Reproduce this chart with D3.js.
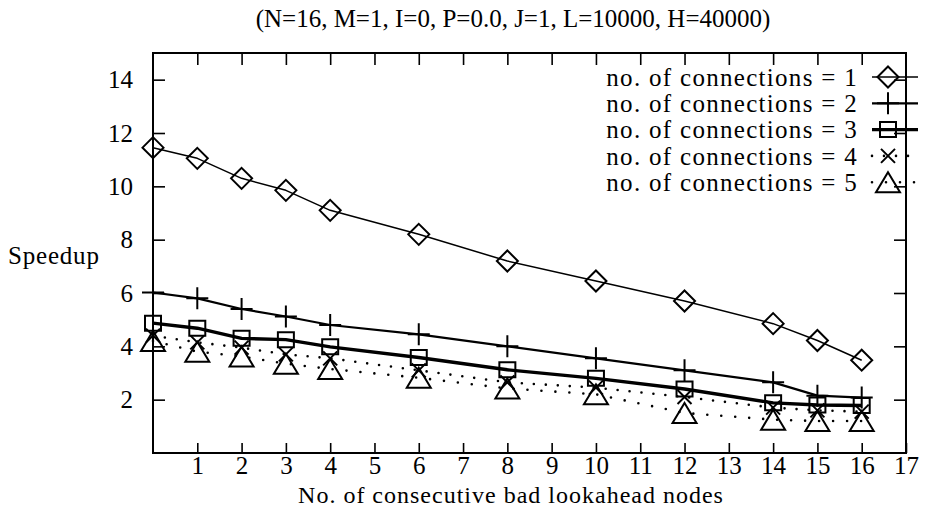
<!DOCTYPE html>
<html>
<head>
<meta charset="utf-8">
<script src="https://cdn.jsdelivr.net/npm/d3@7"></script>
<style>
  body { margin: 0; background: #fff; }
  svg { display: block; }
  svg text { font-family: "Liberation Serif", "Times New Roman", Times, "DejaVu Serif", serif; fill: #000; }
</style>
</head>
<body>
<svg id="chart" width="925" height="527"></svg>
<script>
// ---- data ----
const xValues = [0, 1, 2, 3, 4, 6, 8, 10, 12, 14, 15, 16];
const conn1 = [11.45, 11.05, 10.3, 9.85, 9.1, 8.2, 7.2, 6.45, 5.7, 4.85, 4.22, 3.48];
const conn2 = [6.02, 5.8, 5.4, 5.12, 4.8, 4.45, 4.0, 3.55, 3.1, 2.65, 2.15, 2.08];
const conn3 = [4.87, 4.68, 4.3, 4.25, 3.98, 3.58, 3.12, 2.8, 2.4, 1.88, 1.8, 1.78];
const conn4 = [4.4, 4.15, 3.95, 3.7, 3.55, 3.1, 2.65, 2.45, 2.1, 1.7, 1.6, 1.55];
const conn5 = [4.2, 3.8, 3.62, 3.35, 3.15, 2.82, 2.42, 2.2, 1.5, 1.25, 1.2, 1.2];
const seriesNames = ["no. of connections = 1", "no. of connections = 2", "no. of connections = 3",
                     "no. of connections = 4", "no. of connections = 5"];
const xTickValues = [1, 2, 3, 4, 5, 6, 7, 8, 9, 10, 11, 12, 13, 14, 15, 16, 17];
const yTickValues = [2, 4, 6, 8, 10, 12, 14];
const titleText = "(N=16, M=1, I=0, P=0.0, J=1, L=10000, H=40000)";
const xLabel = "No. of consecutive bad lookahead nodes";
const yLabel = "Speedup";

// ---- layout ----
const FONT = "'Liberation Serif', 'Times New Roman', Times, 'DejaVu Serif', serif";
const svg = d3.select("#chart");
const pLeft = 153, pRight = 906, pTop = 53, pBottom = 453;
const x = d3.scaleLinear().domain([0, 17]).range([pLeft, pRight]);
const y = d3.scaleLinear().domain([0, 15]).range([pBottom, pTop]);
const FS = 25;

const seriesList = [
  { vals: conn1, marker: "diamond",  width: 1.5, dash: null },
  { vals: conn2, marker: "plus",     width: 2.2, dash: null },
  { vals: conn3, marker: "square",   width: 3.4, dash: null },
  { vals: conn4, marker: "cross",    width: 2.6, dash: "0,12" },
  { vals: conn5, marker: "triangle", width: 2.6, dash: "0,14" }
];

function markerPath(type, cx, cy) {
  const p = d3.path();
  if (type === "diamond") {
    const r = 10.5;
    p.moveTo(cx, cy - r); p.lineTo(cx + r, cy); p.lineTo(cx, cy + r); p.lineTo(cx - r, cy); p.closePath();
  } else if (type === "plus") {
    const r = 11;
    p.moveTo(cx - r, cy); p.lineTo(cx + r, cy); p.moveTo(cx, cy - r); p.lineTo(cx, cy + r);
  } else if (type === "square") {
    const w = 8, h = 7.5;
    p.rect(cx - w, cy - h, 2 * w, 2 * h);
  } else if (type === "cross") {
    const r = 7;
    p.moveTo(cx - r, cy - r); p.lineTo(cx + r, cy + r); p.moveTo(cx - r, cy + r); p.lineTo(cx + r, cy - r);
  } else if (type === "triangle") {
    const w = 12, h = 10;
    p.moveTo(cx, cy - h); p.lineTo(cx + w, cy + h); p.lineTo(cx - w, cy + h); p.closePath();
  }
  return p.toString();
}

// ---- axes (inward ticks on all sides) ----
const axisStyle = g => {
  g.attr("font-family", FONT).attr("font-size", FS);
  g.select(".domain").remove();
  g.selectAll(".tick line").attr("stroke", "#000").attr("stroke-width", 1.6);
  g.selectAll(".tick text").attr("fill", "#000");
};

svg.append("g").attr("transform", `translate(0,${pBottom})`)
  .call(d3.axisBottom(x).tickValues(xTickValues).tickSizeInner(-10).tickSizeOuter(0).tickPadding(3).tickFormat(d3.format("d")))
  .call(axisStyle)
  .call(g => g.selectAll(".tick text").attr("dy", "0.71em"));

svg.append("g").attr("transform", `translate(0,${pTop})`)
  .call(d3.axisTop(x).tickValues(xTickValues.slice(0, -1)).tickSizeInner(-12).tickSizeOuter(0).tickFormat(""))
  .call(axisStyle);

svg.append("g").attr("transform", `translate(${pLeft},0)`)
  .call(d3.axisLeft(y).tickValues(yTickValues).tickSizeInner(-12).tickSizeOuter(0).tickPadding(20).tickFormat(d3.format("d")))
  .call(axisStyle);

svg.append("g").attr("transform", `translate(${pRight},0)`)
  .call(d3.axisRight(y).tickValues(yTickValues).tickSizeInner(-12).tickSizeOuter(0).tickFormat(""))
  .call(axisStyle);

// frame
svg.append("rect")
  .attr("x", x(0)).attr("y", y(15))
  .attr("width", x(17) - x(0)).attr("height", y(0) - y(15))
  .attr("fill", "none").attr("stroke", "#000").attr("stroke-width", 2);

// ---- series ----
const line = d3.line().x((d, i) => x(xValues[i])).y(d => y(d));

seriesList.forEach(s => {
  const path = svg.append("path")
    .attr("d", line(s.vals))
    .attr("fill", "none").attr("stroke", "#000")
    .attr("stroke-width", s.width)
    .attr("stroke-linejoin", "round");
  if (s.dash) path.attr("stroke-dasharray", s.dash).attr("stroke-linecap", "round");
  svg.append("g").selectAll("path")
    .data(s.vals)
    .join("path")
    .attr("d", (d, i) => markerPath(s.marker, x(xValues[i]), y(d)))
    .attr("fill", "none").attr("stroke", "#000").attr("stroke-width", 2);
});

// ---- legend ----
const legTextX = 858, legY0 = 77, legDy = 26.3, legL = 872, legR = 918, legM = 888;
seriesList.forEach((s, i) => {
  const ly = legY0 + i * legDy;
  svg.append("text")
    .attr("x", legTextX).attr("y", ly).attr("dy", "0.35em")
    .attr("text-anchor", "end")
    .attr("font-family", FONT).attr("font-size", FS)
    .style("letter-spacing", "1.3px")
    .text(seriesNames[i]);
  const seg = svg.append("line")
    .attr("x1", legL).attr("x2", legR).attr("y1", ly).attr("y2", ly)
    .attr("stroke", "#000").attr("stroke-width", s.width);
  if (s.dash) seg.attr("stroke-dasharray", s.dash).attr("stroke-linecap", "round");
  svg.append("path")
    .attr("d", markerPath(s.marker, legM, ly))
    .attr("fill", "none").attr("stroke", "#000").attr("stroke-width", 2);
});

// ---- titles ----
svg.append("text")
  .attr("x", 513).attr("y", 27)
  .attr("text-anchor", "middle")
  .attr("font-family", FONT).attr("font-size", FS)
  .text(titleText);

svg.append("text")
  .attr("x", 8).attr("y", y(7.4)).attr("dy", "0.35em")
  .attr("font-family", FONT).attr("font-size", FS)
  .style("letter-spacing", "0.8px")
  .text(yLabel);

svg.append("text")
  .attr("x", 511).attr("y", 503)
  .attr("text-anchor", "middle")
  .attr("font-family", FONT).attr("font-size", 24)
  .style("letter-spacing", "1px")
  .text(xLabel);
</script>
</body>
</html>
